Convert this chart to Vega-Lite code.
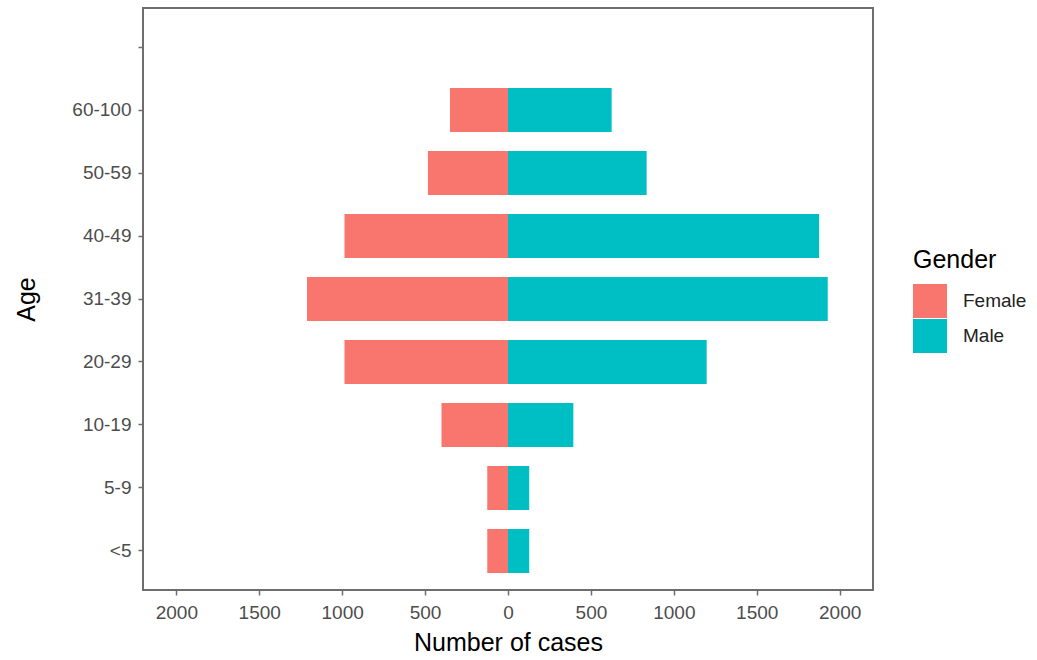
{
  "$schema": "https://vega.github.io/schema/vega-lite/v6.json",
  "autosize": {"type": "none"},
  "padding": {"left": 143, "top": 8, "right": 164, "bottom": 70},
  "width": 730,
  "height": 582,
  "background": "white",
  "config": {
    "font": "Liberation Sans",
    "view": {"stroke": "#6e6e6e", "strokeWidth": 2}
  },
  "data": {
    "values": [
      {"age": "60-100", "gender": "Female", "cases": -350},
      {"age": "50-59", "gender": "Female", "cases": -483},
      {"age": "40-49", "gender": "Female", "cases": -986},
      {"age": "31-39", "gender": "Female", "cases": -1212},
      {"age": "20-29", "gender": "Female", "cases": -986},
      {"age": "10-19", "gender": "Female", "cases": -401},
      {"age": "5-9", "gender": "Female", "cases": -125},
      {"age": "<5", "gender": "Female", "cases": -125},
      {"age": "60-100", "gender": "Male", "cases": 625},
      {"age": "50-59", "gender": "Male", "cases": 836},
      {"age": "40-49", "gender": "Male", "cases": 1876},
      {"age": "31-39", "gender": "Male", "cases": 1928},
      {"age": "20-29", "gender": "Male", "cases": 1198},
      {"age": "10-19", "gender": "Male", "cases": 394},
      {"age": "5-9", "gender": "Male", "cases": 128},
      {"age": "<5", "gender": "Male", "cases": 128}
    ]
  },
  "mark": {"type": "bar"},
  "encoding": {
    "y": {
      "field": "age",
      "type": "nominal",
      "scale": {
        "domain": ["blank", "60-100", "50-59", "40-49", "31-39", "20-29", "10-19", "5-9", "<5"],
        "paddingInner": 0.3,
        "paddingOuter": 0.27
      },
      "axis": {
        "title": "Age",
        "titleFontSize": 25,
        "titleFontWeight": "normal",
        "titleColor": "black",
        "titlePadding": 32,
        "labelExpr": "datum.value == 'blank' ? '' : datum.value",
        "labelFontSize": 19,
        "labelColor": "#4d4d4d",
        "labelPadding": 7,
        "domain": false,
        "ticks": true,
        "tickSize": 5,
        "tickColor": "#6e6e6e",
        "tickWidth": 1.5,
        "grid": false
      }
    },
    "x": {
      "field": "cases",
      "type": "quantitative",
      "stack": null,
      "scale": {"domain": [-2201, 2201], "nice": false, "zero": false},
      "axis": {
        "title": "Number of cases",
        "titleFontSize": 25,
        "titleFontWeight": "normal",
        "titleColor": "black",
        "titlePadding": 8,
        "values": [-2000, -1500, -1000, -500, 0, 500, 1000, 1500, 2000],
        "labelExpr": "format(abs(datum.value), 'd')",
        "labelFontSize": 19,
        "labelColor": "#4d4d4d",
        "labelPadding": 8,
        "domain": false,
        "tickSize": 5,
        "tickColor": "#6e6e6e",
        "tickWidth": 1.5,
        "grid": false
      }
    },
    "color": {
      "field": "gender",
      "type": "nominal",
      "scale": {"domain": ["Female", "Male"], "range": ["#F8766D", "#00BFC4"]},
      "legend": {
        "title": "Gender",
        "orient": "none",
        "legendX": 770,
        "legendY": 240,
        "titleFontSize": 25,
        "titleFontWeight": "normal",
        "titleColor": "black",
        "titlePadding": 11,
        "labelFontSize": 19,
        "labelColor": "#222222",
        "labelOffset": 16,
        "symbolType": "square",
        "symbolSize": 1156,
        "symbolStrokeWidth": 0,
        "symbolOpacity": 1,
        "rowPadding": 1
      }
    }
  }
}
